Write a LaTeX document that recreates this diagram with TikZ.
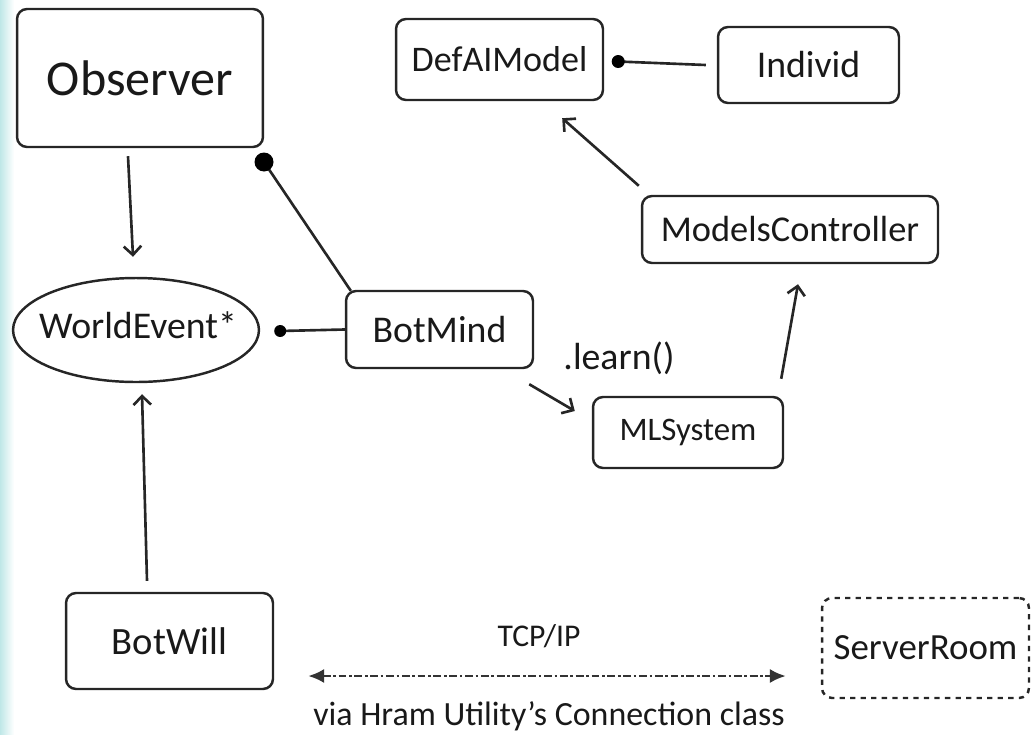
\documentclass[tikz,border=0pt]{standalone}
\usepackage{fontspec}
\setmainfont{Carlito}
\usepackage{tikz}
\usetikzlibrary{calc}
\usetikzlibrary{arrows.meta}
\usetikzlibrary{shapes.geometric}

\begin{document}
\begin{tikzpicture}[x = 0.02cm, y = -0.02cm,
	>={Straight Barb[length = 5pt, width = 10pt]},
	box/.style = {draw = black!85, rounded corners = 0.2cm, line width = 1.4pt, inner sep = 0pt, text = black!90},
	conn/.style = {line width = 1.5pt, black!85},
	dotted tcp/.style = {line width = 1.5pt, black!80, dash pattern = on 4.5pt off 1.5pt on 1.5pt off 1.5pt}]
							\useasboundingbox (0, 0) rectangle (1031, 734);
							\shade[left color = cyan!25!teal!25, right color = white] (0, 0) rectangle (14, 734);

							\node[box, minimum width = 4.92cm, minimum height = 2.76cm, font = \fontsize{28.5}{32}\selectfont](observer) at (140, 78){Observer};
							\node[box, minimum width = 4.14cm, minimum height = 1.62cm, font = \fontsize{20.5}{24}\selectfont](defai) at (499.5, 59.5){DefAIModel};
							\node[box, minimum width = 3.62cm, minimum height = 1.52cm, font = \fontsize{21.5}{24}\selectfont](individ) at (808.5, 65){Individ};
							\node[box, minimum width = 5.92cm, minimum height = 1.34cm, font = \fontsize{20.7}{24}\selectfont](models) at (790, 229.5){ModelsController};
							\node[draw = black!85, ellipse, line width = 1.4pt, inner sep = 0pt, minimum width = 4.92cm, minimum height = 2.08cm](worldevent) at (136, 330){};
							\node[text = black!90, font = \fontsize{21.5}{24}\selectfont](worldtext) at (138, 325){WorldEvent*};
							\node[box, minimum width = 3.74cm, minimum height = 1.54cm, font = \fontsize{21.5}{24}\selectfont](botmind) at (439.5, 329.5){BotMind};
							\node[box, minimum width = 3.8cm, minimum height = 1.42cm, font = \fontsize{18.7}{22}\selectfont](mlsystem) at (688, 432.5){MLSystem};
							\node[box, minimum width = 4.14cm, minimum height = 1.92cm, font = \fontsize{22}{26}\selectfont](botwill) at (169.5, 641){BotWill};
							\node[box, dashed, minimum width = 4.14cm, minimum height = 2cm, font = \fontsize{21}{24}\selectfont](server) at (925.5, 648){ServerRoom};

							\node[text = black!90, font = \fontsize{21.5}{24}\selectfont](learn) at (619, 358){.learn()};
							\node[text = black!90, font = \fontsize{18}{22}\selectfont](tcp) at (539, 636){TCP/IP};
							\node[text = black!90, font = \fontsize{19.3}{22}\selectfont](via) at (549, 716){via Hram Utility's Connection class};

							\coordinate[](bigdot) at (264, 162);
							\coordinate[](webdot) at ($(worldevent.east) + (20, 1)$);
							\coordinate[](defdot) at ($(defai.east) + (14, 2)$);

							\draw[conn, ->] ($(observer.south) + (-12, 8)$)--($(worldevent.north) + (-3, -20)$);
							\draw[conn, ->] ($(botwill.north) + (-22.5, -11)$)--($(worldevent.south) + (6, 11)$);
							\draw[conn] ($(botmind.north west) + (6, 1)$)--(bigdot);
							\fill[black] (bigdot) circle (0.19cm);
							\draw[conn] (botmind.west)--(webdot);
							\fill[black] (webdot) circle (0.12cm);
							\draw[conn] ($(individ.west) + (-11, 0)$)--(defdot);
							\fill[black] (defdot) circle (0.13cm);
							\draw[conn, ->] ($(models.north west) + (-2, -9)$)--($(defai.south east) + (-42, 17)$);
							\draw[conn, ->] ($(mlsystem.north east) + (-3, -17)$)--($(models.south) + (8, 20)$);
							\draw[conn, ->] ($(botmind.south east) + (-5, 15)$)--($(mlsystem.west) + (-17, -21.5)$);
							\draw[dotted tcp, {Latex[length = 9pt, width = 8pt]}-{Latex[length = 9pt, width = 8pt]}] ($(botwill.east) + (34, 35)$)--($(server.west) + (-35, 28)$);
						\end{tikzpicture}
\end{document}
